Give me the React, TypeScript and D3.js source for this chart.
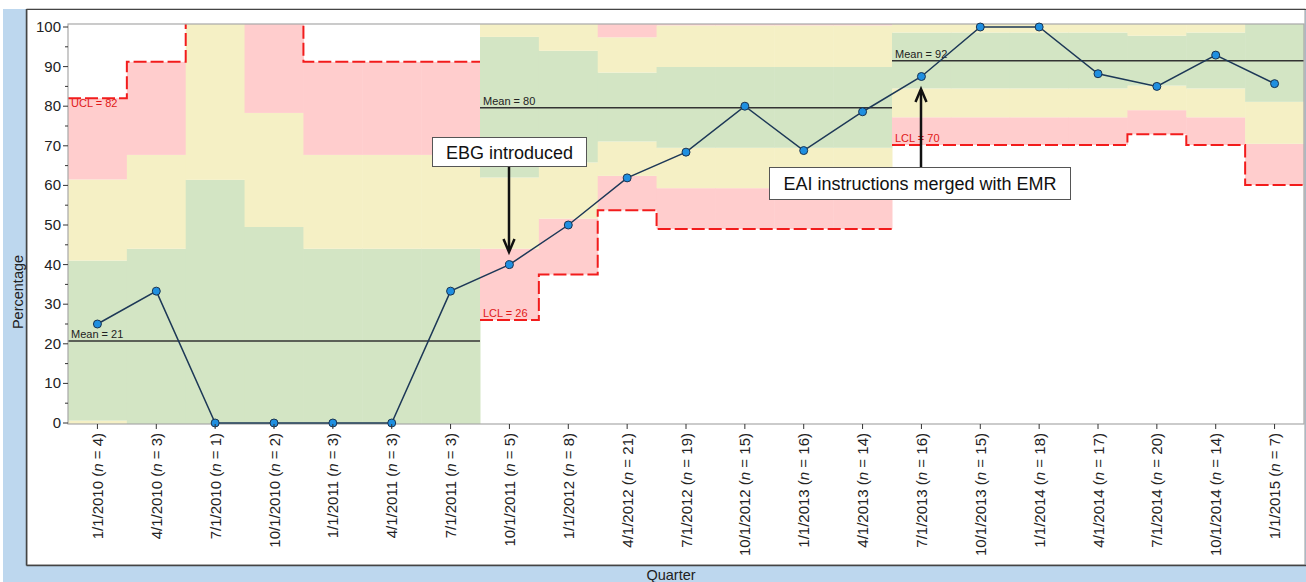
import * as d3 from "d3";
import React from "react";

// quarters and sample sizes
const quarters = [
  "1/1/2010", "4/1/2010", "7/1/2010", "10/1/2010", "1/1/2011", "4/1/2011", "7/1/2011",
  "10/1/2011", "1/1/2012", "4/1/2012", "7/1/2012", "10/1/2012", "1/1/2013", "4/1/2013",
  "7/1/2013", "10/1/2013", "1/1/2014", "4/1/2014", "7/1/2014", "10/1/2014", "1/1/2015",
];
const sampleSizes = [4, 3, 1, 2, 3, 3, 3, 5, 8, 21, 19, 15, 16, 14, 16, 15, 18, 17, 20, 14, 7];
const percentages = [25, 33.3, 0, 0, 0, 0, 33.3, 40, 50, 61.9, 68.4, 80, 68.8, 78.6, 87.5, 100, 100, 88.2, 85, 92.9, 85.7];

// phases (start index, end index exclusive)
const phaseStart = [0, 7, 14];
const phaseEnd = [7, 14, 21];
const phaseMean = [20.7, 79.6, 91.5];
const meanLabels = ["Mean = 21", "Mean = 80", "Mean = 92"];
const limitLabels = ["UCL = 82", "LCL = 26", "LCL = 70"];

// control limits / sigma zones per quarter
const ucl = [82, 91.2, 143, 107, 91.2, 91.2, 91.2, 133, 122, 106, 110.6, 110.6, 110.6, 110.6, 112.8, 112.8, 112.8, 112.8, 110, 112.8, 123];
const plus2 = [61.5, 67.7, 102, 78.3, 67.7, 67.7, 67.7, 115, 108, 97.4, 100.4, 100.4, 100.4, 100.4, 105.5, 105.5, 105.5, 105.5, 104, 105.5, 112];
const plus1 = [41, 44, 61.4, 49.5, 44, 44, 44, 97.5, 94, 88.5, 89.9, 89.9, 89.9, 89.9, 98.6, 98.6, 98.6, 98.6, 97.8, 98.6, 102];
const minus1 = [0.6, -2.5, -20, -8, -2.5, -2.5, -2.5, 62, 65.8, 71.1, 69.5, 69.5, 69.5, 69.5, 84.5, 84.5, 84.5, 84.5, 85.2, 84.5, 81.1];
const minus2 = [-20, -26, -61, -37, -26, -26, -26, 44, 51.6, 62.4, 59.3, 59.3, 59.3, 59.3, 77.2, 77.2, 77.2, 77.2, 79, 77.2, 70.5];
const lcl = [-41, -50, -101, -66, -50, -50, -50, 26, 37.5, 53.7, 49, 49, 49, 49, 70.2, 70.2, 70.2, 70.2, 72.9, 70.2, 60.1];

const yTicks = [0, 10, 20, 30, 40, 50, 60, 70, 80, 90, 100];
const yMinorTicks = [5, 15, 25, 35, 45, 55, 65, 75, 85, 95];

const PINK = "#ffcdcd";
const YELLOW = "#f5f0c5";
const GREEN = "#d3e5c4";
const FONT = "'Liberation Sans', Arial, sans-serif";

const W = 1306;
const H = 582;
const plot = { left: 68, right: 1304, top: 24, bottom: 424 };

export default function App() {
  const x = d3.scaleBand<number>().domain(d3.range(quarters.length)).range([plot.left, plot.right]).padding(0);
  const y = d3.scaleLinear().domain([0, 100]).range([423, 27]);
  const bw = x.bandwidth();
  const cx = (i: number) => (x(i) as number) + bw / 2;

  const zones: { i: number; lo: number; hi: number; color: string }[] = [];
  quarters.forEach((_, i) => {
    zones.push({ i, lo: lcl[i], hi: minus2[i], color: PINK });
    zones.push({ i, lo: minus2[i], hi: minus1[i], color: YELLOW });
    zones.push({ i, lo: minus1[i], hi: plus1[i], color: GREEN });
    zones.push({ i, lo: plus1[i], hi: plus2[i], color: YELLOW });
    zones.push({ i, lo: plus2[i], hi: ucl[i], color: PINK });
  });

  const stepLine = d3.line<[number, number]>().x((d) => d[0]).y((d) => y(d[1])).curve(d3.curveStepAfter);
  const limitPath = (vals: number[], p: number) => {
    const pts: [number, number][] = [];
    for (let i = phaseStart[p]; i < phaseEnd[p]; i++) pts.push([x(i) as number, vals[i]]);
    pts.push([(x(phaseEnd[p] - 1) as number) + bw, vals[phaseEnd[p] - 1]]);
    return stepLine(pts) || "";
  };

  const dataLine = d3.line<number>().x((_, i) => cx(i)).y((d) => y(d));

  const arrowHead = (tx: number, ty: number, dir: number) =>
    `M${tx - 5.5},${ty - 13 * dir} L${tx},${ty} L${tx + 5.5},${ty - 13 * dir}`;

  return (
    <svg width={W} height={H} style={{ position: "absolute", left: 0, top: 0 }} fontFamily={FONT}>
      <defs>
        <clipPath id="plotClip">
          <rect x={plot.left} y={plot.top} width={plot.right - plot.left} height={plot.bottom - plot.top} />
        </clipPath>
      </defs>
      <rect x={0} y={0} width={W} height={H} fill="#fff" />
      <rect x={3} y={9} width={W - 3} height={H - 9} fill="#bdd7ee" />
      <rect x={27} y={9} width={W - 28} height={556} fill="#fff" stroke="#9a9a9a" strokeWidth={1} />
      <line x1={26.5} x2={26.5} y1={9} y2={565.5} stroke="#444" strokeWidth={1.5} />
      <line x1={26.5} x2={W} y1={9.5} y2={9.5} stroke="#444" strokeWidth={1.2} />
      <line x1={26.5} x2={W} y1={565.5} y2={565.5} stroke="#444" strokeWidth={1.5} />

      <g clipPath="url(#plotClip)">
        {zones.map((z, k) => (
          <rect key={k} x={x(z.i)} y={y(z.hi)} width={bw + 0.5} height={Math.max(0, y(z.lo) - y(z.hi))} fill={z.color} />
        ))}
        {[0, 1, 2].map((p) => (
          <g key={p}>
            <path d={limitPath(ucl, p)} fill="none" stroke="#f21c1c" strokeWidth={2} strokeDasharray="13,4" />
            <path d={limitPath(lcl, p)} fill="none" stroke="#f21c1c" strokeWidth={2} strokeDasharray="13,4" />
            <line x1={x(phaseStart[p])} x2={(x(phaseEnd[p] - 1) as number) + bw} y1={y(phaseMean[p])} y2={y(phaseMean[p])} stroke="#333" strokeWidth={1.5} />
          </g>
        ))}
      </g>

      <rect x={plot.left} y={plot.top} width={plot.right - plot.left} height={plot.bottom - plot.top} fill="none" stroke="#a8a8a8" strokeWidth={1.2} />

      {/* limit and mean labels */}
      <text x={x(0)! + 3} y={y(ucl[0]) + 9} fontSize={11} fill="#e01818">{limitLabels[0]}</text>
      <text x={x(7)! + 3} y={y(lcl[7]) - 3} fontSize={11} fill="#e01818">{limitLabels[1]}</text>
      <text x={x(14)! + 3} y={y(lcl[14]) - 3} fontSize={11} fill="#e01818">{limitLabels[2]}</text>
      {[0, 1, 2].map((p) => (
        <text key={p} x={(x(phaseStart[p]) as number) + 3} y={y(phaseMean[p]) - 3} fontSize={11} fill="#222">{meanLabels[p]}</text>
      ))}

      {/* data */}
      <path d={dataLine(percentages) || ""} fill="none" stroke="#1d3857" strokeWidth={1.5} />
      {percentages.map((v, i) => (
        <circle key={i} cx={cx(i)} cy={y(v)} r={4} fill="#1f8fe0" stroke="#1a3350" strokeWidth={1} />
      ))}

      {/* y axis */}
      {yTicks.map((t) => (
        <g key={t}>
          <line x1={63} x2={68} y1={y(t)} y2={y(t)} stroke="#333" />
          <text x={61} y={y(t) + 5} textAnchor="end" fontSize={15} fill="#222">{t}</text>
        </g>
      ))}
      {yMinorTicks.map((t) => (
        <line key={t} x1={65} x2={68} y1={y(t)} y2={y(t)} stroke="#333" />
      ))}
      <text transform="translate(23,292) rotate(-90)" textAnchor="middle" fontSize={14.5} fill="#222">Percentage</text>

      {/* x axis */}
      {quarters.map((q, i) => (
        <g key={q}>
          <line x1={cx(i)} x2={cx(i)} y1={424} y2={429} stroke="#333" />
          <text transform={`translate(${cx(i) + 5.5},433) rotate(-90)`} textAnchor="end" fontSize={15} fill="#222">
            {q} (<tspan fontStyle="italic">n</tspan> = {sampleSizes[i]})
          </text>
        </g>
      ))}
      <text x={671} y={580} textAnchor="middle" fontSize={14.5} fill="#222">Quarter</text>

      {/* annotations */}
      <line x1={509} x2={509} y1={166} y2={251} stroke="#111" strokeWidth={2.5} />
      <path d={arrowHead(509, 252, 1)} fill="none" stroke="#111" strokeWidth={2.5} />
      <rect x={432.5} y={137.5} width={154} height={29} fill="#fff" stroke="#555" strokeWidth={1} />
      <text x={509.5} y={158.5} textAnchor="middle" fontSize={18} fill="#111">EBG introduced</text>

      <line x1={921} x2={921} y1={167} y2={90} stroke="#111" strokeWidth={2.5} />
      <path d={arrowHead(921, 89, -1)} fill="none" stroke="#111" strokeWidth={2.5} />
      <rect x={769.5} y={167.5} width={301} height={32} fill="#fff" stroke="#555" strokeWidth={1} />
      <text x={920} y={190} textAnchor="middle" fontSize={18} fill="#111">EAI instructions merged with EMR</text>
    </svg>
  );
}
